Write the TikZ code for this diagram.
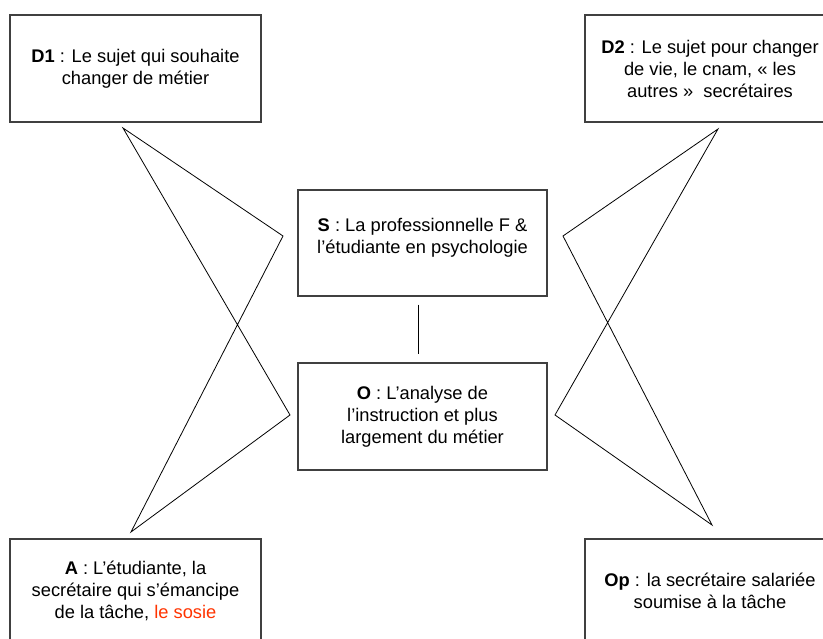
\documentclass[tikz,border=0pt]{standalone}
\usepackage{fontspec}
\setmainfont{Liberation Sans}
\definecolor{sosie}{RGB}{255,51,0}
\begin{document}
\begin{tikzpicture}[x=1pt,y=-1pt,
  box/.style={draw=black!75, line width=1.2pt, align=center, inner sep=0pt,
    font=\fontsize{18.3}{22}\selectfont},
  web/.style={line width=0.8pt, line join=miter}]
\useasboundingbox (0,0) rectangle (823,639);
\node[box, minimum width=251pt, minimum height=107pt] (D1) at (135.5,68.5)
  {\textbf{D1} : Le sujet qui souhaite\\changer de métier};
\node[box, minimum width=250pt, minimum height=107pt] (D2) at (710,68.5)
  {\textbf{D2} : Le sujet pour changer\\de vie, le cnam, «~les\\autres~»~~secrétaires};
\node[box, minimum width=249pt, minimum height=106pt] (S) at (422.5,243)
  {\textbf{S} : La professionnelle F \&\\l’étudiante en psychologie\\[-8pt]\mbox{}};
\node[box, minimum width=249pt, minimum height=107pt] (O) at (422.5,416.5)
  {\textbf{O} : L’analyse de\\l’instruction et plus\\largement du métier};
\node[box, minimum width=251pt, minimum height=104pt] (A) at (135.5,591)
  {\textbf{A} : L’étudiante, la\\secrétaire qui s’émancipe\\de la tâche, \textcolor{sosie}{le sosie}};
\node[box, minimum width=250pt, minimum height=104pt] (Op) at (710,591)
  {\textbf{Op} : la secrétaire salariée\\soumise à la tâche};
\draw[web] ([xshift=-4.5pt,yshift=-8pt]S.south) -- ([xshift=-4.5pt,yshift=8pt]O.north);
\coordinate (lt) at (123,128);
\coordinate (ls) at (283,236);
\coordinate (lo) at (290,415);
\coordinate (lb) at (131,532);
\coordinate (rt) at (718,129);
\coordinate (rs) at (563,236);
\coordinate (ro) at (555,415);
\coordinate (rb) at (712,525);
\draw[web] (lt) -- (ls) -- (lb) -- (lo) -- cycle;
\draw[web] (rt) -- (rs) -- (rb) -- (ro) -- cycle;
\end{tikzpicture}
\end{document}
